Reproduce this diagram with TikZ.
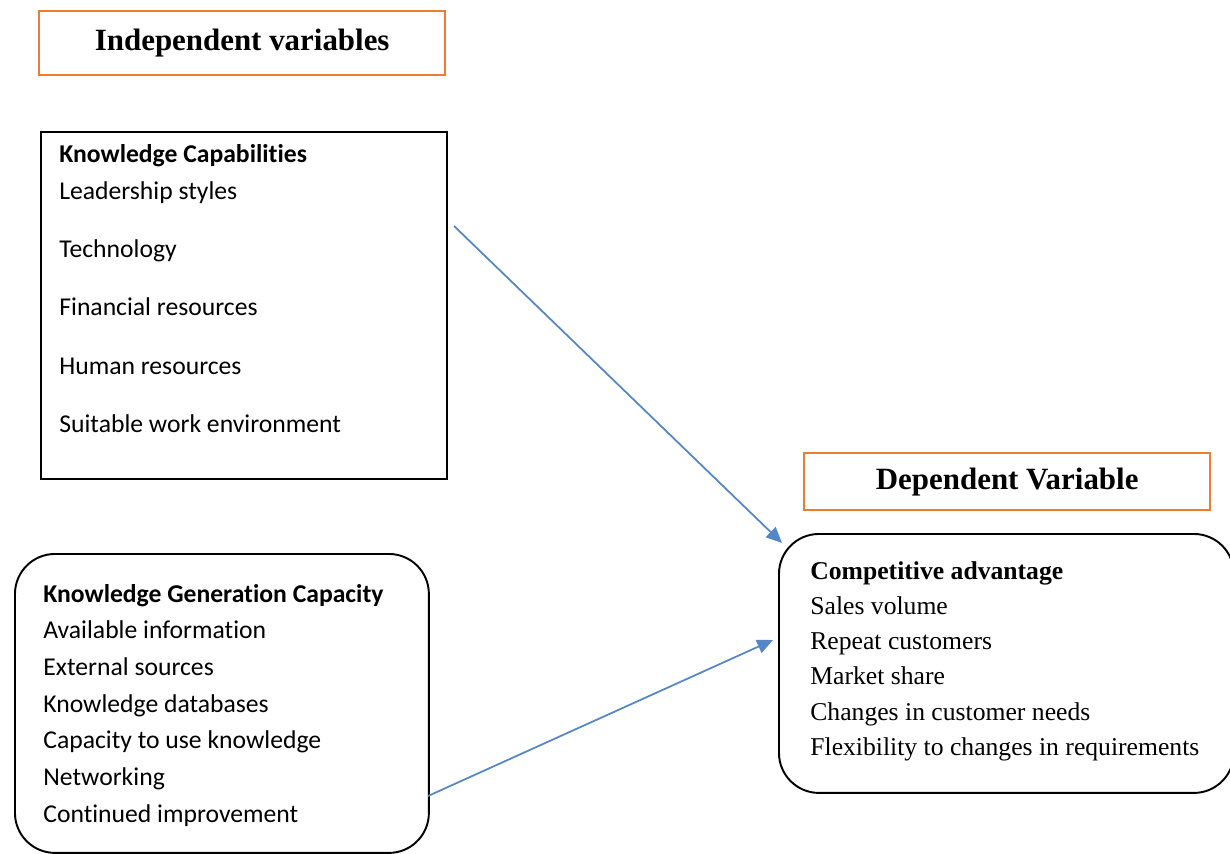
\documentclass[tikz,border=0pt]{standalone}
\usepackage{fontspec}
\setmainfont{Liberation Serif}
\newfontfamily\calibri[Ligatures=NoCommon]{Carlito}
\usetikzlibrary{positioning}
\usetikzlibrary{arrows.meta}
\definecolor{titleorange}{RGB}{237,125,49}
\definecolor{arrowblue}{RGB}{84,134,200}
\tikzstyle{titlebox}=[draw=titleorange,line width=1.4pt,inner sep=0pt,anchor=north west,font=\fontsize{17.6}{20}\selectfont\bfseries]
\tikzstyle{plainbox}=[draw=black,line width=1.1pt,inner sep=0pt,anchor=north west]
\tikzstyle{roundbox}=[plainbox,rounded corners=0.8cm]
\tikzstyle{sansline}=[anchor=base west,inner sep=0pt,font=\fontsize{14.6}{17}\calibri]
\tikzstyle{serifline}=[anchor=base west,inner sep=0pt,font=\fontsize{14.6}{17}\selectfont]
\tikzstyle{flow}=[-{Triangle[length=9pt,width=8pt]},draw=arrowblue,fill=arrowblue,line width=1pt]

\begin{document}
\begin{tikzpicture}[x=0.02cm,y=-0.02cm]

  \useasboundingbox (0,0) rectangle (1230,854);

  % titles
  \node[titlebox,minimum width=8.12cm,minimum height=1.28cm] (indep) at (38,10) {Independent variables};
  \node[titlebox,minimum width=8.12cm,minimum height=1.14cm] (dep) at (803,452) {\raisebox{-1.8pt}{Dependent Variable}};

  % boxes
  \node[plainbox,minimum width=8.12cm,minimum height=6.94cm] (kc) at (40,131) {};
  \node[roundbox,minimum width=8.28cm,minimum height=5.98cm] (kgc) at (14,553) {};
  \node[roundbox,minimum width=9.1cm,minimum height=5.18cm] (ca) at (778,533) {};

  \foreach \y/\txt [count=\i] in {163/{\textbf{Knowledge Capabilities}}, 200/{Leadership styles}, 258/{Technology}, 316/{Financial resources}, 375/{Human resources}, 433/{Suitable work environment}}
    \node[sansline] (kc-\i) at (59,\y) {\txt};

  \foreach \y/\txt [count=\i] in {602/{\textbf{Knowledge Generation Capacity}}, 638.5/{Available information}, 675/{External sources}, 712/{Knowledge databases}, 748.5/{Capacity to use knowledge}, 785/{Networking}, 822/{Continued improvement}}
    \node[sansline] (kgc-\i) at (43,\y) {\txt};

  \foreach \y/\txt [count=\i] in {579/{\textbf{Competitive advantage}}, 614/{Sales volume}, 649.5/{Repeat customers}, 684.5/{Market share}, 720/{Changes in customer needs}, 755/{Flexibility to changes in requirements}}
    \node[serifline] (ca-\i) at (810,\y) {\txt};

  % arrows
  \coordinate (kc-out) at (454,226);
  \coordinate (ca-in1) at (782,543);
  \coordinate (kgc-out) at (428,796);
  \coordinate (ca-in2) at (773,640);
  \draw[flow] (kc-out) -- (ca-in1);
  \draw[flow] (kgc-out) -- (ca-in2);

\end{tikzpicture}
\end{document}
